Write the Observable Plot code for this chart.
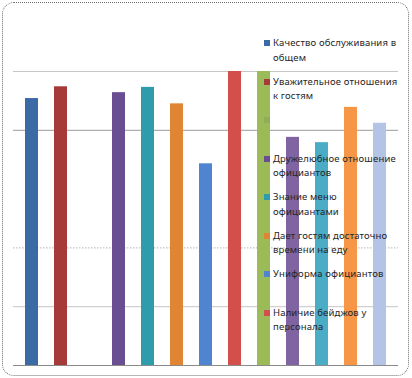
<!DOCTYPE html>
<html>
<head>
<meta charset="utf-8">
<script src="https://cdn.jsdelivr.net/npm/d3@7"></script>
<script src="https://cdn.jsdelivr.net/npm/@observablehq/plot@0.6"></script>
<style>
  html, body { margin: 0; padding: 0; background: #fff; }
  #wrap { position: relative; width: 412px; height: 378px; overflow: hidden; }
  #frame { position: absolute; left: 2px; top: 2px; width: 407px; height: 374px;
           border: 1px dotted #6f6f6f; border-radius: 12px; box-sizing: border-box; }
  #chart { position: absolute; left: 0; top: 0; }
  .item { position: absolute; left: 264px; font-family: "Noto Sans", "Liberation Sans", Arial, sans-serif;
          font-size: 9.5px; line-height: 14.5px; color: #262626; letter-spacing: 0.15px; }
  .sw { position: absolute; left: 0; top: 4px; width: 6px; height: 6px; }
  .tx { margin-left: 9px; white-space: nowrap; }
</style>
</head>
<body>
<div id="wrap">
  <div id="frame"></div>
  <div id="chart"></div>
</div>
<script>
// Series slots (x positions, one per series); only legend-visible names are known
const slots = ["s1","s2","s3","s4","s5","s6","s7","s8","s9","s10","s11","s12","s13"];
const values = [4.54, 4.74, null, 4.64, 4.73, 4.45, 3.43, 5.0, 5.0, 3.88, 3.79, 4.39, 4.12];
const colors = ["#3a6ba6","#a53a38","#9bbb59","#6a4e92","#2e9cab","#e08533","#4e84d0","#d24f4c","#9bbb59","#8064a2","#4bacc6","#f79646","#b4c4e6"];
// Legend (visible part)
const legendLines = [
  ["Качество обслуживания в", "общем"],
  ["Уважительное отношения", "к гостям"],
  [""],
  ["Дружелюбное отношение", "официантов"],
  ["Знание меню", "официантами"],
  ["Дает гостям достаточно", "времени на еду"],
  ["Униформа официантов"],
  ["Наличие бейджов у", "персонала"]
];
const legendColors = ["#3a6ba6","#a53a38","#8fae55","#6a4e92","#2e9cab","#e08533","#4e84d0","#d24f4c"];
// Gridlines visible in the picture
const gridSolidLight = [5, 1];
const gridDark = [4];
const gridDotted = [2];

const data = slots.map((s, i) => ({slot: s, value: values[i], color: colors[i]})).filter(d => d.value != null);

const chart = Plot.plot({
  width: 412,
  height: 378,
  marginLeft: 13,
  marginRight: 14,
  marginTop: 71,
  marginBottom: 13,
  x: {domain: slots, paddingInner: 0.56, paddingOuter: 0.28, axis: null},
  y: {domain: [0, 5], axis: null},
  color: {type: "identity"},
  marks: [
    Plot.ruleY(gridSolidLight, {stroke: "#c6c6c6", strokeWidth: 1}),
    Plot.ruleY(gridDark, {stroke: "#9a9a9a", strokeWidth: 1}),
    Plot.ruleY(gridDotted, {stroke: "#b4b4b4", strokeWidth: 1, strokeDasharray: "1.5,1.5"}),
    Plot.barY(data, {x: "slot", y: "value", fill: "color", clip: true}),
    Plot.ruleY([0], {stroke: "#8a8a8a", strokeWidth: 1})
  ]
});
document.getElementById("chart").appendChild(chart);

const wrap = document.getElementById("wrap");
legendLines.forEach((lines, i) => {
  const item = document.createElement("div");
  item.className = "item";
  item.style.top = (36 + i * 38.5) + "px";
  const sw = document.createElement("div");
  sw.className = "sw";
  sw.style.background = legendColors[i];
  item.appendChild(sw);
  const tx = document.createElement("div");
  tx.className = "tx";
  tx.innerHTML = lines.map(l => l === "" ? "&nbsp;" : l).join("<br>");
  item.appendChild(tx);
  wrap.appendChild(item);
});
</script>
</body>
</html>
